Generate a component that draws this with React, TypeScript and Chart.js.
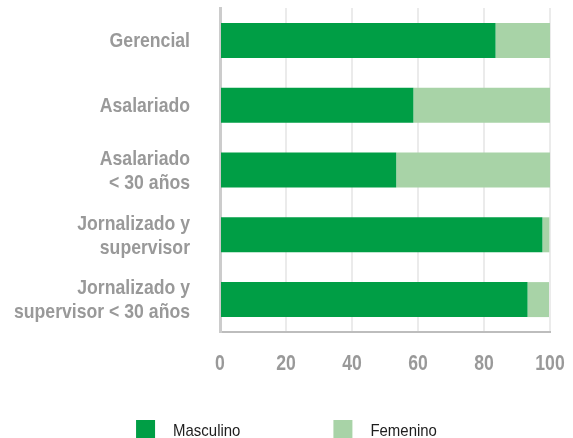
import React, { useEffect, useRef } from "react";
import { Chart, registerables } from "chart.js";

Chart.register(...registerables);

const categories: (string | string[])[] = [
  "Gerencial",
  "Asalariado",
  ["Asalariado", "< 30 años"],
  ["Jornalizado y", "supervisor"],
  ["Jornalizado y", "supervisor < 30 años"],
];
const seriesNames = ["Masculino", "Femenino"];
const masculino = [83.5, 58.6, 53.4, 97.7, 93.2];
const femenino = [16.5, 41.4, 46.6, 2.1, 6.5];
const xTicks = [0, 20, 40, 60, 80, 100];

const COLORS = ["#009e45", "#a8d3a7"];
const FONT = "'Liberation Sans', Arial, sans-serif";
const LABEL_GREY = "#999999";

function drawCondensed(ctx: any, text: string, x: number, y: number, sx: number) {
  ctx.save();
  ctx.translate(x, y);
  ctx.scale(sx, 1);
  ctx.fillText(text, 0, 0);
  ctx.restore();
}

const labelsPlugin = {
  id: "condensedLabels",
  afterDraw(chart: any) {
    const ctx = chart.ctx;
    const yScale = chart.scales.y;
    const xScale = chart.scales.x;
    ctx.save();
    // category labels
    ctx.font = `bold 21px ${FONT}`;
    ctx.fillStyle = LABEL_GREY;
    ctx.textAlign = "right";
    ctx.textBaseline = "middle";
    const lineH = 24;
    (chart.data.labels as any[]).forEach((lab, i) => {
      const lines = Array.isArray(lab) ? lab : [lab];
      const cy = yScale.getPixelForValue(i) + 1;
      lines.forEach((ln: string, j: number) => {
        const y = cy + (j - (lines.length - 1) / 2) * lineH;
        drawCondensed(ctx, ln, yScale.right - 30, y, 0.84);
      });
    });
    // value ticks
    ctx.font = `bold 22px ${FONT}`;
    ctx.textAlign = "center";
    xScale.ticks.forEach((t: any) => {
      const x = xScale.getPixelForValue(t.value);
      drawCondensed(ctx, String(t.value), x, xScale.top + 32, 0.8);
    });
    // legend
    const box = 19;
    const textGap = 18;
    const itemGap = 93;
    const sx = 0.88;
    ctx.font = `17px ${FONT}`;
    ctx.textAlign = "left";
    const items = chart.data.datasets.map((ds: any) => ({
      label: ds.label,
      color: ds.backgroundColor,
      w: box + textGap + ctx.measureText(ds.label).width * sx,
    }));
    const total = items.reduce((s: number, it: any) => s + it.w, 0) + itemGap * (items.length - 1);
    let x = (chart.width - total) / 2;
    const cy = chart.height - 8;
    items.forEach((it: any) => {
      ctx.fillStyle = it.color;
      ctx.fillRect(x, cy - box / 2 - 0.5, box, box);
      ctx.fillStyle = "#1e1e1e";
      drawCondensed(ctx, it.label, x + box + textGap, cy + 1, sx);
      x += it.w + itemGap;
    });
    ctx.restore();
  },
};

export default function App() {
  const ref = useRef<HTMLCanvasElement | null>(null);
  useEffect(() => {
    if (!ref.current) return;
    const chart = new Chart(ref.current, {
      type: "bar",
      data: {
        labels: categories,
        datasets: [
          { label: seriesNames[0], data: masculino, backgroundColor: COLORS[0], barPercentage: 0.54, categoryPercentage: 1 },
          { label: seriesNames[1], data: femenino, backgroundColor: COLORS[1], barPercentage: 0.54, categoryPercentage: 1 },
        ],
      },
      options: {
        indexAxis: "y",
        responsive: false,
        animation: false,
        layout: { padding: { top: 8, right: 23, left: 0, bottom: 0 } },
        plugins: {
          legend: { display: false },
          tooltip: { enabled: false },
        },
        scales: {
          x: {
            stacked: true,
            min: 0,
            max: 100,
            afterBuildTicks: (scale: any) => {
              scale.ticks = xTicks.map((v) => ({ value: v }));
            },
            afterFit: (scale: any) => {
              scale.height = 106;
              scale.paddingLeft = 0;
              scale.paddingRight = 0;
              scale.paddingTop = 0;
              scale.paddingBottom = 0;
            },
            grid: { color: "#ebebeb", lineWidth: 2, drawTicks: false },
            border: { display: true, color: "#bdbdbd", width: 2 },
            ticks: { display: false },
          },
          y: {
            stacked: true,
            afterFit: (scale: any) => {
              scale.width = 220;
              scale.paddingLeft = 0;
              scale.paddingRight = 0;
              scale.paddingTop = 0;
              scale.paddingBottom = 0;
            },
            grid: { display: false, drawTicks: false },
            border: { display: true, color: "#cccccc", width: 3 },
            ticks: { display: false },
          },
        },
      },
      plugins: [labelsPlugin],
    } as any);
    return () => chart.destroy();
  }, []);
  return (
    <div style={{ position: "fixed", left: 0, top: 0, width: 573, height: 438, background: "#fff" }}>
      <canvas ref={ref} width={573} height={438} />
    </div>
  );
}
